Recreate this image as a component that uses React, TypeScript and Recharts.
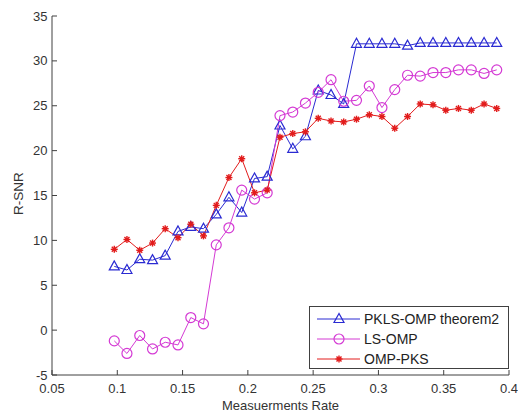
import React from "react";
import {
  LineChart,
  Line,
  XAxis,
  YAxis,
  Legend,
  Label,
} from "recharts";

// measurement rate (M/N)
const RATES = [
  0.0977, 0.1074, 0.1172, 0.127, 0.1367, 0.1465, 0.1563, 0.166, 0.1758, 0.1855,
  0.1953, 0.2051, 0.2148, 0.2246, 0.2344, 0.2441, 0.2539, 0.2637, 0.2734, 0.2832,
  0.293, 0.3027, 0.3125, 0.3223, 0.332, 0.3418, 0.3516, 0.3613, 0.3711, 0.3809, 0.3906,
];

const PKLS_OMP = [
  7.1, 6.7, 7.9, 7.8, 8.3, 11.0, 11.5, 11.3, 12.9, 14.8, 13.1, 16.9, 17.1, 22.8, 20.2,
  21.6, 26.7, 26.2, 25.2, 31.9, 31.9, 31.9, 31.9, 31.7, 32.0, 32.0, 32.0, 32.0, 32.0,
  32.0, 32.0,
];

const LS_OMP = [
  -1.2, -2.6, -0.6, -2.1, -1.35, -1.65, 1.4, 0.7, 9.5, 11.4, 15.6, 14.6, 15.3, 23.9,
  24.3, 25.3, 26.5, 27.9, 25.5, 25.6, 27.2, 24.8, 26.8, 28.4, 28.3, 28.7, 28.7, 29.0,
  29.0, 28.6, 29.0,
];

const OMP_PKS = [
  9.0, 10.1, 8.9, 9.7, 11.3, 10.3, 11.8, 10.5, 13.9, 17.0, 19.1, 15.3, 15.6, 21.5, 21.9,
  22.1, 23.6, 23.3, 23.2, 23.5, 24.0, 23.8, 22.5, 23.8, 25.2, 25.1, 24.5, 24.7, 24.5,
  25.2, 24.7,
];

const X_TICKS = [0.05, 0.1, 0.15, 0.2, 0.25, 0.3, 0.35, 0.4];
const Y_TICKS = [-5, 0, 5, 10, 15, 20, 25, 30, 35];

const BLUE = "#2a2ad2";
const MAGENTA = "#d43ad4";
const RED = "#e21c1c";
const AXIS = "#404040";
const FONT = "'Liberation Sans', Arial, sans-serif";

const data = RATES.map((rate, i) => ({
  rate,
  pkls: PKLS_OMP[i],
  ls: LS_OMP[i],
  omp: OMP_PKS[i],
}));

const Triangle = ({ cx, cy, color }: any) => (
  <polygon
    points={`${cx},${cy - 5.5} ${cx - 5},${cy + 3.5} ${cx + 5},${cy + 3.5}`}
    fill="none"
    stroke={color}
    strokeWidth={1.2}
  />
);

const Circle = ({ cx, cy, color }: any) => (
  <circle cx={cx} cy={cy} r={5} fill="none" stroke={color} strokeWidth={1.2} />
);

const Star = ({ cx, cy, color }: any) => (
  <g stroke={color} strokeWidth={1.4}>
    <line x1={cx - 3.5} y1={cy} x2={cx + 3.5} y2={cy} />
    <line x1={cx} y1={cy - 3.5} x2={cx} y2={cy + 3.5} />
    <line x1={cx - 2.5} y1={cy - 2.5} x2={cx + 2.5} y2={cy + 2.5} />
    <line x1={cx - 2.5} y1={cy + 2.5} x2={cx + 2.5} y2={cy - 2.5} />
    <circle cx={cx} cy={cy} r={1.8} fill={color} stroke="none" />
  </g>
);

const SERIES = [
  { key: "pkls", name: "PKLS-OMP theorem2", color: BLUE, Marker: Triangle },
  { key: "ls", name: "LS-OMP", color: MAGENTA, Marker: Circle },
  { key: "omp", name: "OMP-PKS", color: RED, Marker: Star },
];

const LegendBox = () => (
  <div style={{ border: `1px solid ${AXIS}`, background: "#fff", width: 198, height: 61 }}>
    <svg width={198} height={61}>
      {SERIES.map((s, i) => {
        const y = 12 + i * 20;
        return (
          <g key={s.key}>
            <line x1={7} x2={50} y1={y} y2={y} stroke={s.color} strokeWidth={1} />
            <s.Marker cx={29} cy={y} color={s.color} />
            <text x={54} y={y + 5} fontSize={14} fill="#222" fontFamily={FONT}>
              {s.name}
            </text>
          </g>
        );
      })}
    </svg>
  </div>
);

const tickStyle = { fontSize: 13, fill: "#333", fontFamily: FONT };

export default function App() {
  return (
    <div style={{ position: "absolute", left: 0, top: 0 }}>
      <LineChart
        width={518}
        height={412}
        data={data}
        margin={{ top: 16, right: 9, bottom: 0, left: 0 }}
      >
        <XAxis
          dataKey="rate"
          type="number"
          domain={[0.05, 0.4]}
          ticks={X_TICKS}
          allowDataOverflow
          height={37}
          tickSize={-5}
          tickMargin={14}
          tick={tickStyle}
          stroke={AXIS}
        >
          <Label
            value="Measuerments Rate"
            position="insideBottom"
            offset={2}
            style={{ fontSize: 13, fill: "#333", fontFamily: FONT }}
          />
        </XAxis>
        <XAxis
          xAxisId="top"
          dataKey="rate"
          type="number"
          orientation="top"
          domain={[0.05, 0.4]}
          ticks={X_TICKS}
          height={0}
          tickSize={-5}
          tick={false}
          stroke={AXIS}
        />
        <YAxis
          type="number"
          domain={[-5, 35]}
          ticks={Y_TICKS}
          width={52}
          tickSize={-5}
          tickMargin={9.5}
          tick={tickStyle}
          stroke={AXIS}
        >
          <Label
            content={({ viewBox }: any) => {
              const x = viewBox.x + 18;
              const y = viewBox.y + viewBox.height / 2 - 2;
              return (
                <text
                  x={x}
                  y={y}
                  transform={`rotate(-90 ${x} ${y})`}
                  textAnchor="middle"
                  dominantBaseline="central"
                  fontSize={13.5}
                  fill="#333"
                  fontFamily={FONT}
                >
                  R-SNR
                </text>
              );
            }}
          />
        </YAxis>
        <YAxis
          yAxisId="right"
          type="number"
          orientation="right"
          domain={[-5, 35]}
          ticks={Y_TICKS}
          width={0}
          tickSize={-5}
          tick={false}
          stroke={AXIS}
        />
        {SERIES.map((s) => (
          <Line
            key={s.key}
            dataKey={s.key}
            name={s.name}
            stroke={s.color}
            strokeWidth={1}
            isAnimationActive={false}
            dot={(p: any) => <s.Marker key={`${s.key}-${p.index}`} cx={p.cx} cy={p.cy} color={s.color} />}
            activeDot={false}
          />
        ))}
        <Legend
          layout="vertical"
          align="center"
          verticalAlign="middle"
          content={() => <LegendBox />}
          wrapperStyle={{ left: 309, top: 306, width: 200, height: 63 }}
        />
      </LineChart>
    </div>
  );
}
